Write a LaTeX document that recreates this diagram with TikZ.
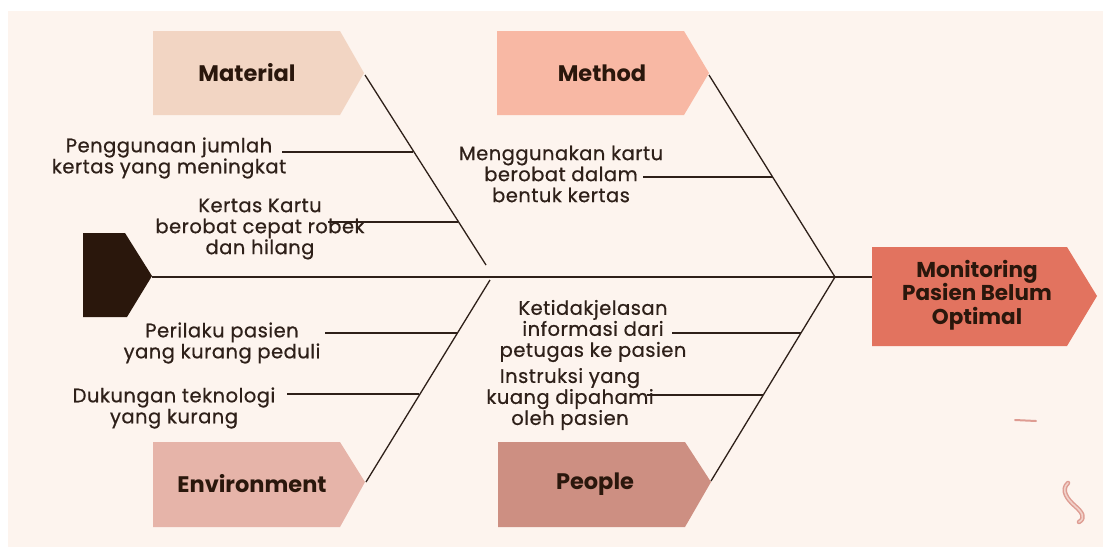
\documentclass[tikz,border=0pt]{standalone}
\usepackage{fontspec}
\setmainfont{Poppins}
\newfontfamily\causefont{Poppins}[LetterSpace=2.5,FakeBold=0.6]
\definecolor{cream}{HTML}{FDF4EE}
\definecolor{ink}{HTML}{2E2019}
\definecolor{headc}{HTML}{2A170C}
\definecolor{matc}{HTML}{F2D5C3}
\definecolor{metc}{HTML}{F8B8A4}
\definecolor{envc}{HTML}{E6B4A9}
\definecolor{peoc}{HTML}{CD8F82}
\definecolor{effc}{HTML}{E2735F}
\definecolor{decoc}{HTML}{DE9C92}
\begin{document}
\begin{tikzpicture}[x=1pt,y=-1pt,
  bone/.style={draw=ink,line width=1.3pt},
  cat/.style={font=\bfseries\fontsize{22.5}{26}\selectfont,text=headc},
  cause/.style={font=\causefont\fontsize{19.5}{21}\selectfont,text=ink,align=center,inner sep=0pt}]
\useasboundingbox (0,0) rectangle (1103,547);
\fill[white] (0,0) rectangle (1103,547);
\fill[cream] (8,11) rectangle (1103,547);
% category boxes
\fill[matc] (153,31) -- (340,31) -- (364,73) -- (340,115) -- (153,115) -- cycle;
\fill[metc] (497,31) -- (684,31) -- (709,73) -- (684,115) -- (497,115) -- cycle;
\fill[envc] (153,442) -- (340,442) -- (365,482) -- (340,527) -- (153,527) -- cycle;
\fill[peoc] (498,442) -- (685,442) -- (711,482) -- (685,527) -- (498,527) -- cycle;
\fill[effc] (872,247) -- (1067,247) -- (1097,296) -- (1067,346) -- (872,346) -- cycle;
\fill[headc] (83,233) -- (125,233) -- (152,276) -- (127,317) -- (83,317) -- cycle;
\node[cat] (mat) at (247,73) {Material};
\node[cat] (met) at (602,73) {Method};
\node[cat] (env) at (252,484) {Environment};
\node[cat] (peo) at (595,484) {People};
\node[cat,align=center,font=\bfseries\fontsize{21.5}{23.5}\selectfont] (eff) at (977,295) {Monitoring\\Pasien Belum\\Optimal};
% spine and bones
\coordinate (head) at (152,277);
\coordinate (v) at (835,277);
\coordinate (mtip) at (365,75);
\coordinate (mend) at (486,265);
\coordinate (ttip) at (709,75);
\coordinate (etip) at (366,482);
\coordinate (eend) at (490,280);
\coordinate (ptip) at (711,481);
\coordinate (ein) at (872,277);
\draw[bone] (head) -- (v) -- (ein);
\draw[bone] (mtip) -- (mend);
\draw[bone] (ttip) -- (v);
\draw[bone] (etip) -- (eend);
\draw[bone] (ptip) -- (v);
% causes
\node[cause] (c1) at (169,158) {Penggunaan jumlah\\kertas yang meningkat};
\coordinate (c1a) at (282,152); \coordinate (c1b) at (413,152);
\draw[bone] (c1a) -- (c1b);
\node[cause] (c2) at (260,229) {Kertas Kartu\\berobat cepat robek\\dan hilang};
\coordinate (c2a) at (328,222); \coordinate (c2b) at (458,222);
\draw[bone] (c2a) -- (c2b);
\node[cause] (c3) at (561,174) {Menggunakan kartu\\berobat dalam\\bentuk kertas};
\coordinate (c3a) at (643,177); \coordinate (c3b) at (773,177);
\draw[bone] (c3a) -- (c3b);
\node[cause] (c4) at (222,343) {Perilaku pasien\\yang kurang peduli};
\coordinate (c4a) at (325,333); \coordinate (c4b) at (457,333);
\draw[bone] (c4a) -- (c4b);
\node[cause] (c5) at (174,408) {Dukungan teknologi\\yang kurang};
\coordinate (c5a) at (287,394); \coordinate (c5b) at (419,394);
\draw[bone] (c5a) -- (c5b);
\node[cause] (c6) at (593,331) {Ketidakjelasan\\informasi dari\\petugas ke pasien};
\coordinate (c6a) at (672,333); \coordinate (c6b) at (801,333);
\draw[bone] (c6a) -- (c6b);
\node[cause] (c7) at (570,399) {Instruksi yang\\kuang dipahami\\oleh pasien};
\coordinate (c7a) at (647,395); \coordinate (c7b) at (763,395);
\draw[bone] (c7a) -- (c7b);
% decorations
\draw[decoc,line width=2pt,line cap=round] (1015,420) -- (1036,421);
\draw[decoc,line width=4.5pt,line cap=round,line join=round] (1068,483) .. controls (1060,490) and (1068,500) .. (1075,506) .. controls (1082,512) and (1086,518) .. (1079,522);
\draw[cream!60!decoc,line width=1.6pt,line cap=round,line join=round] (1068,483) .. controls (1060,490) and (1068,500) .. (1075,506) .. controls (1082,512) and (1086,518) .. (1079,522);
\end{tikzpicture}
\end{document}
